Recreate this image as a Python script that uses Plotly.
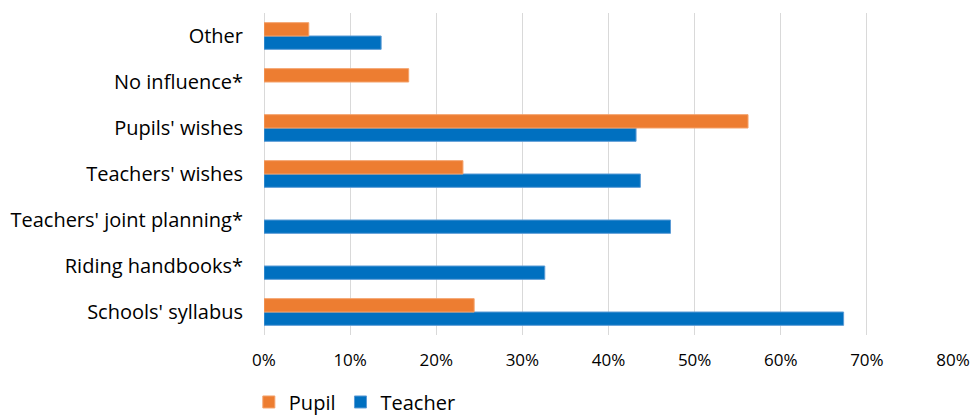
import plotly.graph_objects as go

# Categories, listed top to bottom as they appear on the chart
categories = [
    "Other",
    "No influence*",
    "Pupils' wishes",
    "Teachers' wishes",
    "Teachers' joint planning*",
    "Riding handbooks*",
    "Schools' syllabus",
]

# Share of respondents (%); None where the question was not asked
pupil = [5.2, 16.8, 56.2, 23.1, None, None, 24.4]
teacher = [13.6, None, 43.2, 43.7, 47.2, 32.6, 67.3]

x_ticks = [0, 10, 20, 30, 40, 50, 60, 70, 80]
x_tick_labels = [f"{v}%" for v in x_ticks]

FONT = "Open Sans"
ORANGE = "#ED7D31"
BLUE = "#0070C0"

fig = go.Figure()
# Teacher added first so it sits below Pupil within each group
fig.add_trace(go.Bar(
    y=categories, x=teacher, name="Teacher", orientation="h",
    marker=dict(color=BLUE, line=dict(color="#5B9BD5", width=1)),
    legendrank=2,
))
fig.add_trace(go.Bar(
    y=categories, x=pupil, name="Pupil", orientation="h",
    marker=dict(color=ORANGE, line=dict(color="#F4A26B", width=1)),
    legendrank=1,
))

fig.update_layout(
    width=970, height=417,
    margin=dict(l=264, r=17, t=13, b=82, autoexpand=False),
    paper_bgcolor="white", plot_bgcolor="white",
    barmode="group", bargap=0.42, bargroupgap=0,
    font=dict(family=FONT, size=19, color="#000000"),
    showlegend=True,
    legend=dict(
        orientation="h", x=-0.022, xanchor="left", y=-0.208, yanchor="middle",
        font=dict(family=FONT, size=20, color="#000000"),
        itemwidth=30, traceorder="normal",
    ),
)

fig.update_xaxes(
    range=[0, 80], tickvals=x_ticks, ticktext=x_tick_labels,
    showgrid=True, gridcolor="#D9D9D9", gridwidth=1,
    zeroline=True, zerolinecolor="#D9D9D9", zerolinewidth=1,
    showline=False, ticks="outside", ticklen=10, tickcolor="rgba(0,0,0,0)",
    tickfont=dict(family=FONT, size=17, color="#000000"),
)
fig.update_yaxes(
    categoryorder="array", categoryarray=list(reversed(categories)),
    showgrid=False, showline=False, zeroline=False,
    ticks="outside", ticklen=16, tickcolor="rgba(0,0,0,0)",
    tickfont=dict(family=FONT, size=20, color="#000000"),
)

fig.write_html("out.html")
